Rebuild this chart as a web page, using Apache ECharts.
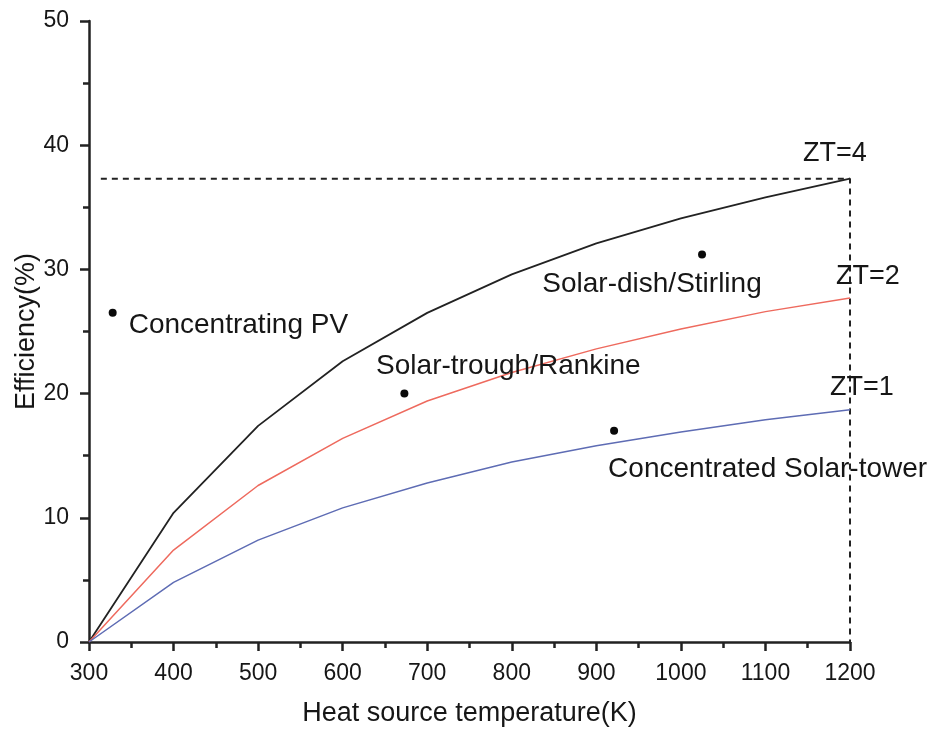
<!DOCTYPE html>
<html>
<head>
<meta charset="utf-8">
<script src="https://cdn.jsdelivr.net/npm/echarts@6/dist/echarts.min.js"></script>
<style>
  html, body { margin: 0; padding: 0; background: #fff; }
  #chart { width: 939px; height: 731px; }
</style>
</head>
<body>
<div id="chart"></div>
<script>
// Heat source temperatures (K)
const temps = [300, 400, 500, 600, 700, 800, 900, 1000, 1100, 1200];
// Conversion efficiency (%) for each figure of merit
const effZT4 = [0, 10.4, 17.4, 22.6, 26.5, 29.6, 32.1, 34.1, 35.8, 37.3];
const effZT2 = [0, 7.4, 12.6, 16.4, 19.4, 21.7, 23.6, 25.2, 26.6, 27.7];
const effZT1 = [0, 4.8, 8.2, 10.8, 12.8, 14.5, 15.8, 16.9, 17.9, 18.7];
const curveNames = ['ZT=4', 'ZT=2', 'ZT=1'];

// Existing solar conversion technologies
const techNames = ['Concentrating PV', 'Solar-trough/Rankine', 'Solar-dish/Stirling', 'Concentrated Solar-tower'];
const techTemps = [328, 673, 1025, 921];
const techEffs = [26.5, 20.0, 31.2, 17.0];

// Guide start on the temperature axis
const guideStartT = 314;

const FONT = 'Liberation Sans, Arial, Helvetica, sans-serif';
const TEXT = '#161616';

const pairs = (ys) => temps.map((t, i) => [t, ys[i]]);
const lastT = temps[temps.length - 1];

function curve(name, ys, color, width, off) {
  return {
    name: name,
    type: 'line',
    data: pairs(ys),
    symbol: 'none',
    smooth: false,
    lineStyle: { color: color, width: width },
    z: 3,
    markPoint: {
      symbol: 'circle',
      symbolSize: 0,
      data: [{ coord: [lastT, ys[ys.length - 1]], value: name }],
      label: {
        show: true,
        position: 'inside',
        formatter: name,
        offset: off,
        fontFamily: FONT,
        fontSize: 27,
        color: TEXT,
        textBorderWidth: 0
      }
    }
  };
}

// per-label placement relative to each dot
const techLabelStyle = [
  { align: 'left', offset: [16, 12] },
  { align: 'center', offset: [104, -27] },
  { align: 'center', offset: [-50, 30] },
  { align: 'left', offset: [-6, 38] }
];

const techData = techNames.map((n, i) => ({
  value: [techTemps[i], techEffs[i]],
  name: n,
  label: {
    show: true,
    position: 'inside',
    formatter: n,
    align: techLabelStyle[i].align,
    verticalAlign: 'middle',
    offset: techLabelStyle[i].offset,
    fontFamily: FONT,
    fontSize: 28,
    color: TEXT,
    opacity: 1,
    textBorderWidth: 0
  }
}));

const topEff = effZT4[effZT4.length - 1];
const plain = (v) => String(v);

const chart = echarts.init(document.getElementById('chart'), null, { renderer: 'canvas' });
chart.setOption({
  backgroundColor: '#ffffff',
  animation: false,
  grid: { left: 89, right: 89, top: 21, bottom: 89, containLabel: false, outerBoundsMode: 'none' },
  xAxis: {
    type: 'value',
    min: 300,
    max: 1200,
    interval: 100,
    name: 'Heat source temperature(K)',
    nameLocation: 'middle',
    nameGap: 58,
    nameMoveOverlap: false,
    nameTextStyle: { fontFamily: FONT, fontSize: 27, color: TEXT },
    axisLine: { show: true, onZero: false, lineStyle: { color: '#222', width: 2.5 } },
    axisTick: { show: true, inside: false, length: 9, lineStyle: { color: '#222', width: 2.5 } },
    minorTick: { show: true, splitNumber: 2, length: 6, lineStyle: { color: '#222', width: 2.5 } },
    axisLabel: { margin: 20, formatter: plain, fontFamily: FONT, fontSize: 23, color: TEXT },
    splitLine: { show: false }
  },
  yAxis: {
    type: 'value',
    min: 0,
    max: 50,
    interval: 10,
    name: 'Efficiency(%)',
    nameLocation: 'middle',
    nameGap: 49,
    nameMoveOverlap: false,
    nameTextStyle: { fontFamily: FONT, fontSize: 27, color: TEXT },
    axisLine: { show: true, lineStyle: { color: '#222', width: 2.5 } },
    axisTick: { show: true, inside: false, length: 9, lineStyle: { color: '#222', width: 2.5 } },
    minorTick: { show: true, splitNumber: 2, length: 6, lineStyle: { color: '#222', width: 2.5 } },
    axisLabel: { margin: 20, formatter: plain, fontFamily: FONT, fontSize: 23, color: TEXT },
    splitLine: { show: false }
  },
  series: [
    {
      name: 'guide',
      type: 'line',
      data: [[guideStartT, topEff], [lastT, topEff], [lastT, 0]],
      symbol: 'none',
      lineStyle: { color: '#222', width: 2, type: [6, 5] },
      z: 2,
      silent: true
    },
    curve(curveNames[0], effZT4, '#222222', 1.8, [-15, -25]),
    curve(curveNames[1], effZT2, '#ee6a5e', 1.5, [18, -21]),
    curve(curveNames[2], effZT1, '#5e6cb4', 1.5, [12, -22]),
    {
      name: 'technologies',
      type: 'scatter',
      data: techData,
      symbol: 'circle',
      symbolSize: 8,
      itemStyle: { color: '#0a0a0a', opacity: 1 },
      z: 5
    }
  ]
});
</script>
</body>
</html>
